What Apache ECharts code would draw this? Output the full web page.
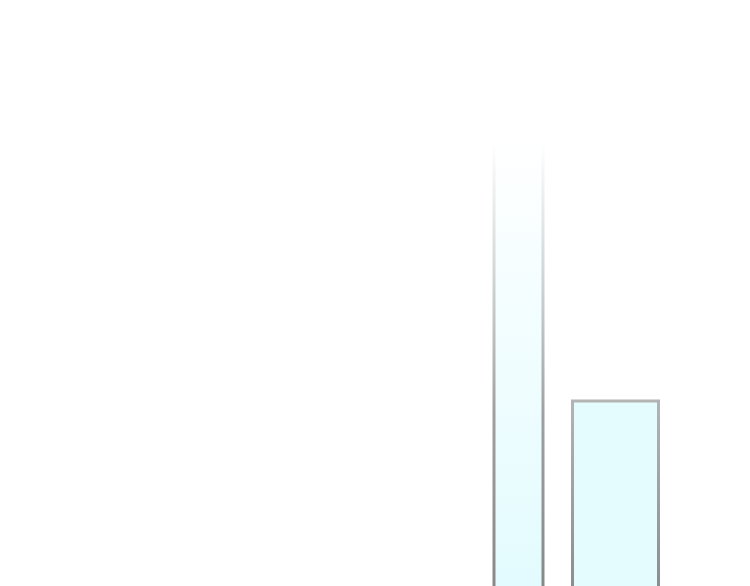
<!DOCTYPE html>
<html>
<head>
<meta charset="utf-8">
<script src="https://cdn.jsdelivr.net/npm/echarts@6/dist/echarts.min.js"></script>
<style>
  html, body { margin: 0; padding: 0; background: #fff; overflow: hidden; }
  /* 比窗口高一点, 柱子底边落在画面外 */
  #root { width: 750px; height: 592px; }
</style>
</head>
<body>
<div id="root"></div>
<script>
// 数据
var categories = ['A', 'B'];
var tallValues = [76, null];
var shortValues = [null, 32.5];

var myChart = echarts.init(document.getElementById('root'));

var option = {
  animation: false,
  backgroundColor: '#ffffff',
  grid: {left: 470, right: 86, top: 0, bottom: 0},
  //两根柱子各用一条x轴, 这样各自居中
  xAxis: [
    {type: 'category', data: categories, show: false},
    {type: 'category', data: categories, show: false}
  ],
  yAxis: {
    type: 'value',
    min: 0,
    max: 100,
    show: false
  },
  series: [
    {
      name: 'tall',
      type: 'bar',
      xAxisIndex: 0,
      barWidth: 52,
      data: tallValues,
      itemStyle: {
        //顶部渐隐
        color: new echarts.graphic.LinearGradient(0, 0, 0, 1, [
          {offset: 0, color: 'rgba(232,252,255,0)'},
          {offset: 0.35, color: 'rgba(232,252,255,0.5)'},
          {offset: 1, color: 'rgba(226,251,254,1)'}
        ]),
        borderColor: new echarts.graphic.LinearGradient(0, 0, 0, 1, [
          {offset: 0, color: 'rgba(160,160,160,0)'},
          {offset: 0.3, color: 'rgba(160,160,160,0.45)'},
          {offset: 0.6, color: 'rgba(150,150,150,0.9)'},
          {offset: 1, color: 'rgba(135,135,135,1)'}
        ]),
        borderWidth: 3
      }
    },
    {
      name: 'short',
      type: 'bar',
      xAxisIndex: 1,
      barWidth: 89,
      data: shortValues,
      itemStyle: {
        color: '#e5fcfe',
        borderColor: new echarts.graphic.LinearGradient(0, 0, 0, 1, [
          {offset: 0, color: '#b4b4b4'},
          {offset: 1, color: '#8c8c8c'}
        ]),
        borderWidth: 3
      }
    }
  ]
};

myChart.setOption(option);
</script>
</body>
</html>
